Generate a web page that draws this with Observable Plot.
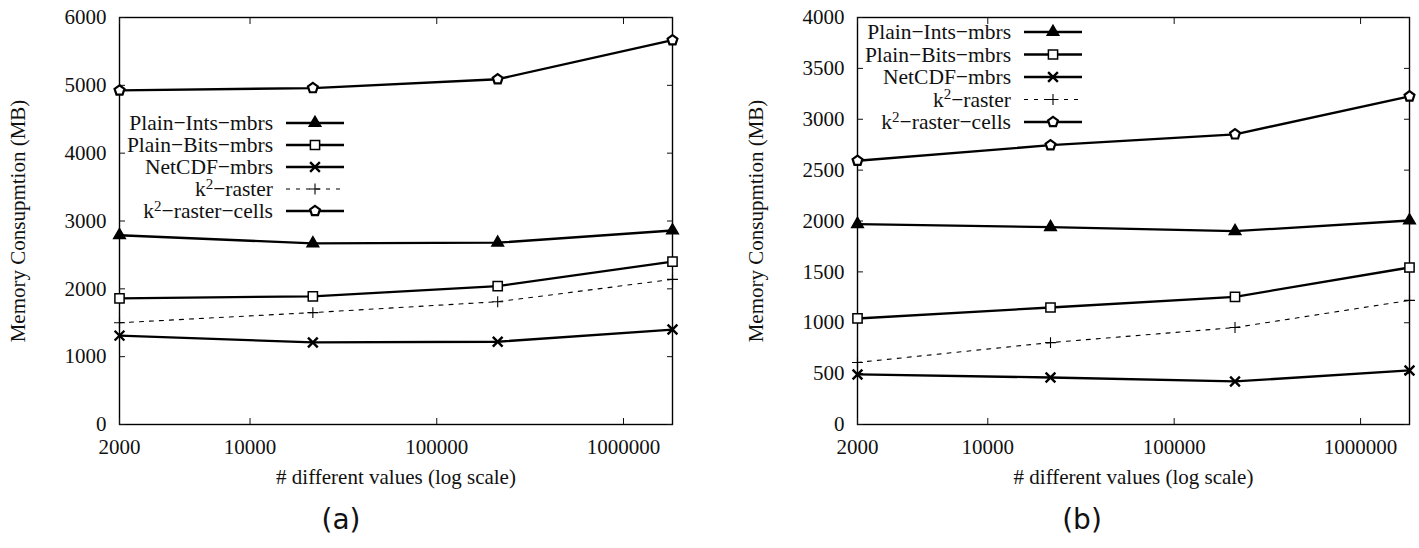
<!DOCTYPE html>
<html>
<head>
<meta charset="utf-8">
<script src="https://cdn.jsdelivr.net/npm/d3@7"></script>
<script src="https://cdn.jsdelivr.net/npm/@observablehq/plot@0.6"></script>
<style>
  html, body { margin: 0; padding: 0; background: #fff; }
  #wrap { position: relative; width: 1419px; height: 548px; background: #fff; overflow: hidden; }
  .panel { position: absolute; top: 0; }
  .panel svg, .panel svg text { font-family: "Liberation Serif", serif !important; }
  .cap { position: absolute; top: 503px; width: 120px; text-align: center; font-family: "DejaVu Sans", sans-serif; font-size: 28px; color: #111; }
</style>
</head>
<body>
<div id="wrap">
  <div id="pa" class="panel" style="left:0px"></div>
  <div id="pb" class="panel" style="left:710px"></div>
  <div class="cap" style="left:281px">(a)</div>
  <div class="cap" style="left:1022px">(b)</div>
</div>
<script>
// ---- data ----
const xValues = [2000, 21700, 212000, 1830000];
const xTicks = [2000, 10000, 100000, 1000000];
const seriesNames = ["Plain−Ints−mbrs", "Plain−Bits−mbrs", "NetCDF−mbrs", "k2−raster", "k2−raster−cells"];

// panel (a)
const a_plainInts = [2790, 2670, 2680, 2860];
const a_plainBits = [1860, 1890, 2040, 2400];
const a_netcdf    = [1310, 1210, 1220, 1400];
const a_k2raster  = [1500, 1650, 1810, 2140];
const a_k2cells   = [4925, 4960, 5090, 5665];
const a_yTicks = [0, 1000, 2000, 3000, 4000, 5000, 6000];

// panel (b)
const b_plainInts = [1970, 1940, 1900, 2005];
const b_plainBits = [1042, 1150, 1255, 1543];
const b_netcdf    = [492, 462, 423, 531];
const b_k2raster  = [610, 805, 953, 1220];
const b_k2cells   = [2592, 2745, 2852, 3225];
const b_yTicks = [0, 500, 1000, 1500, 2000, 2500, 3000, 3500, 4000];

const xLabel = "# different values (log scale)";
const yLabel = "Memory Consupmtion (MB)";

const FONT = "Liberation Serif";

// ---- styles ----
const pentagon = {
  draw(ctx, size) {
    const r = Math.sqrt(size / 2.3776);
    for (let i = 0; i < 5; i++) {
      const ang = -Math.PI / 2 + i * 2 * Math.PI / 5;
      const x = r * Math.cos(ang), y = r * Math.sin(ang);
      if (i) ctx.lineTo(x, y); else ctx.moveTo(x, y);
    }
    ctx.closePath();
  }
};
const styles = [
  {symbol: d3.symbolTriangle, r: 4.3, fill: "#000", msw: 1.5, sw: 2.3, dash: null},
  {symbol: d3.symbolSquare,   r: 5.2, fill: "#fff", msw: 1.5, sw: 2.3, dash: null},
  {symbol: d3.symbolTimes,    r: 4.5, fill: "none", msw: 2.4, sw: 2.3, dash: null},
  {symbol: d3.symbolPlus,     r: 3.6, fill: "none", msw: 1.1, sw: 1.1, dash: "4,6"},
  {symbol: pentagon,          r: 4.5, fill: "#fff", msw: 2.2, sw: 2.3, dash: null}
];

function makePanel(seriesValues, yMax, yTicks, marginLeft, marginRight, width, legend) {
  const rows = [];
  seriesValues.forEach((vals, si) => vals.forEach((v, i) => rows.push({s: si, x: xValues[i], y: v})));
  const marks = [
    Plot.frame({stroke: "#000", strokeWidth: 1.4}),
    Plot.axisX({anchor: "bottom", ticks: xTicks, tickSize: -6, text: null, label: null}),
    Plot.axisX({anchor: "top", ticks: xTicks, tickSize: -6, text: null, label: null}),
    Plot.axisY({anchor: "left", ticks: yTicks, tickSize: -6, text: null, label: null}),
    Plot.axisY({anchor: "right", ticks: yTicks, tickSize: -6, text: null, label: null}),
    Plot.axisX({anchor: "bottom", ticks: xTicks, tickSize: 0, tickPadding: 15, tickFormat: d => String(d), label: null, fontFamily: FONT, fontSize: 21}),
    Plot.axisY({anchor: "left", ticks: yTicks, tickSize: 0, tickPadding: 13, tickFormat: d => String(d), label: null, fontFamily: FONT, fontSize: 21}),
    Plot.text([xLabel], {frameAnchor: "bottom", dy: 53, lineAnchor: "middle", textAnchor: "middle", text: d => d, fill: "#111", fontFamily: FONT, fontSize: 21}),
    Plot.text([yLabel], {frameAnchor: "left", dx: -101, rotate: -90, lineAnchor: "middle", textAnchor: "middle", text: d => d, fill: "#111", fontFamily: FONT, fontSize: 21})
  ];
  styles.forEach((st, si) => {
    const d = rows.filter(r => r.s === si);
    marks.push(Plot.line(d, {x: "x", y: "y", stroke: "#000", strokeWidth: st.sw, strokeDasharray: st.dash}));
    marks.push(Plot.dot(d, {x: "x", y: "y", symbol: st.symbol, r: st.r, fill: st.fill, stroke: "#000", strokeWidth: st.msw}));
  });
  const svg = Plot.plot({
    width, height: 490, marginLeft, marginRight, marginTop: 17, marginBottom: 66,
    style: `font-family: '${FONT}', serif; font-size: 21px; color: #111; background: #fff; overflow: visible;`,
    x: {type: "log", domain: [xValues[0], xValues[3]]},
    y: {domain: [0, yMax]},
    marks
  });
  // legend (inside the frame, gnuplot style)
  const g = d3.select(svg).append("g").attr("font-family", FONT).attr("font-size", 21.5).attr("fill", "#111");
  styles.forEach((st, i) => {
    const y = legend.y0 + i * legend.dy;
    const name = seriesNames[i];
    const t = g.append("text").attr("x", legend.textRight).attr("y", y).attr("dy", "0.33em").attr("text-anchor", "end");
    if (name.startsWith("k2")) {
      t.append("tspan").text("k");
      t.append("tspan").attr("font-size", 15).attr("dy", "-0.5em").text("2");
      t.append("tspan").attr("dy", "0.35em").text(name.slice(2));
    } else {
      t.text(name);
    }
    g.append("line").attr("x1", legend.lineX1).attr("x2", legend.lineX2).attr("y1", y).attr("y2", y)
      .attr("stroke", "#000").attr("stroke-width", st.sw).attr("stroke-dasharray", st.dash);
    g.append("path").attr("transform", `translate(${(legend.lineX1 + legend.lineX2) / 2},${y})`)
      .attr("d", d3.symbol(st.symbol, Math.PI * st.r * st.r)())
      .attr("fill", st.fill).attr("stroke", "#000").attr("stroke-width", st.msw);
  });
  return svg;
}

document.getElementById("pa").append(makePanel(
  [a_plainInts, a_plainBits, a_netcdf, a_k2raster, a_k2cells], 6000, a_yTicks, 119, 38, 710,
  {y0: 123, dy: 22, textRight: 273, lineX1: 286, lineX2: 344}
));
document.getElementById("pb").append(makePanel(
  [b_plainInts, b_plainBits, b_netcdf, b_k2raster, b_k2cells], 4000, b_yTicks, 147, 10, 709,
  {y0: 32, dy: 22.5, textRight: 301, lineX1: 314, lineX2: 372}
));
</script>
</body>
</html>
